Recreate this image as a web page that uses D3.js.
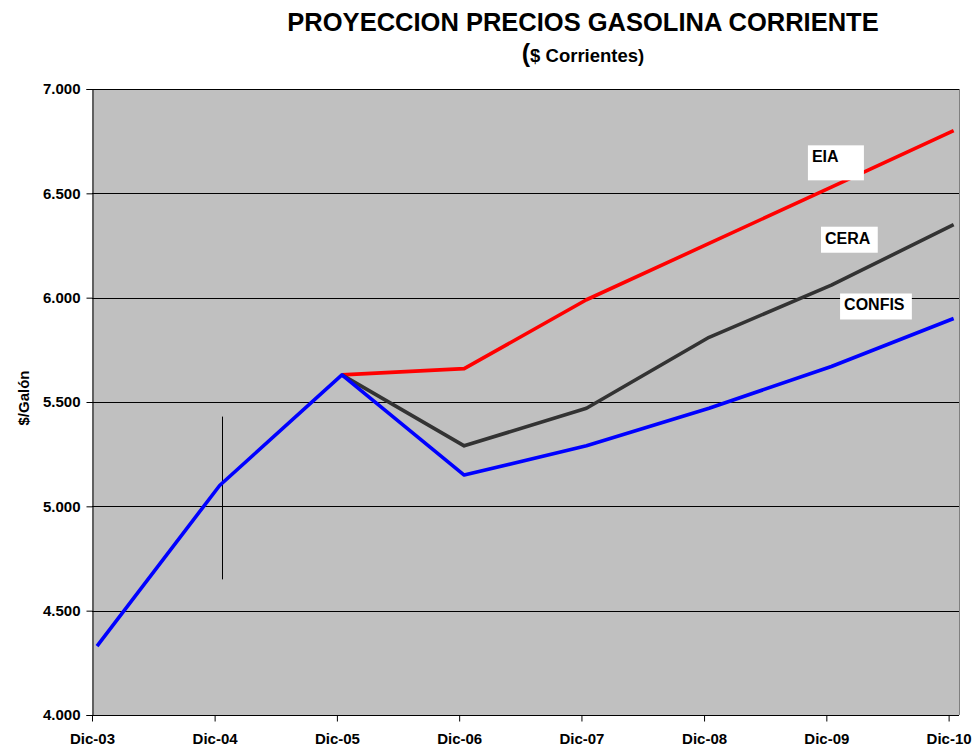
<!DOCTYPE html>
<html>
<head>
<meta charset="utf-8">
<script src="https://cdn.jsdelivr.net/npm/d3@7/dist/d3.min.js"></script>
<style>
  body { margin: 0; background: #fff; }
  text { font-family: Arial, "Liberation Sans", sans-serif; font-weight: bold; }
</style>
</head>
<body>
<div id="chart"></div>
<script>
// Category labels and years (December of each year)
const periods = ["Dic-03", "Dic-04", "Dic-05", "Dic-06", "Dic-07", "Dic-08", "Dic-09", "Dic-10"];
const years = [2003, 2004, 2005, 2006, 2007, 2008, 2009, 2010];

// Price projections ($/Galón), null where a series has no value
const eia = [null, null, 5.63, 5.66, 5.99, 6.26, 6.53, 6.80];
const cera = [null, null, 5.63, 5.29, 5.47, 5.81, 6.06, 6.35];
const confis = [4.33, 5.10, 5.63, 5.15, 5.29, 5.47, 5.67, 5.90];

// Thin high-low range drawn at Dic-04
const rangeYear = 2004;
const rangeLow = 4.65;
const rangeHigh = 5.43;

// Series names and where the label boxes sit (in data units)
const labelNames = ["EIA", "CERA", "CONFIS"];
const labelDates = ["2009-10-07", "2009-11-15", "2010-01-11"];
const labelValues = [6.73, 6.34, 6.02];

const yTicks = [4, 4.5, 5, 5.5, 6, 6.5, 7];

const width = 980, height = 748;
const plot = { left: 92, right: 959, top: 89, bottom: 715 };

const svg = d3.select("#chart").append("svg")
  .attr("width", width)
  .attr("height", height);

// Date axis: ticks on Dec 1, data points at mid December
const x = d3.scaleTime()
  .domain([new Date(2003, 11, 1), new Date(2011, 0, 1)])
  .range([plot.left, plot.right]);
const y = d3.scaleLinear().domain([4, 7]).range([plot.bottom, plot.top]);

const pointDate = yr => new Date(yr, 11, 16);
const fmt = d3.format(",.3f");
const esFmt = v => fmt(v).replace(".", ",").replace(/,(\d{3})$/, ".$1");

// Plot background
svg.append("rect")
  .attr("x", plot.left).attr("y", plot.top)
  .attr("width", plot.right - plot.left).attr("height", plot.bottom - plot.top)
  .attr("fill", "#c0c0c0");

// Horizontal gridlines
svg.append("g")
  .selectAll("line")
  .data(yTicks.filter(t => t > 4))
  .join("line")
  .attr("x1", plot.left).attr("x2", plot.right)
  .attr("y1", d => Math.round(y(d)) + 0.5).attr("y2", d => Math.round(y(d)) + 0.5)
  .attr("stroke", "#000").attr("stroke-width", 1);

// Right border of plot area
svg.append("line")
  .attr("x1", plot.right + 0.5).attr("x2", plot.right + 0.5)
  .attr("y1", plot.top).attr("y2", plot.bottom)
  .attr("stroke", "#808080");

// Y axis
const yAxis = svg.append("g")
  .attr("transform", `translate(${plot.left + 0.5},0)`)
  .call(d3.axisLeft(y).tickValues(yTicks).tickSize(6).tickPadding(6).tickFormat(esFmt));
yAxis.select(".domain").attr("stroke", "#000");
yAxis.selectAll("text").attr("font-size", 15).attr("fill", "#000")
  .style("font-family", "Arial, 'Liberation Sans', sans-serif").style("font-weight", "bold");

// X axis
const xAxis = svg.append("g")
  .attr("transform", `translate(0,${plot.bottom + 0.5})`)
  .call(d3.axisBottom(x)
    .tickValues(years.map(yr => new Date(yr, 11, 1)))
    .tickSize(6).tickPadding(12)
    .tickFormat((d, i) => periods[i]));
xAxis.select(".domain").attr("stroke", "#000").attr("d", `M${plot.left},0H${plot.right}`);
xAxis.selectAll("text").attr("font-size", 15).attr("fill", "#000")
  .style("font-family", "Arial, 'Liberation Sans', sans-serif").style("font-weight", "bold");

// Y axis title
svg.append("text")
  .attr("transform", `translate(29,398) rotate(-90)`)
  .attr("text-anchor", "middle")
  .attr("font-size", 15)
  .text("$/Galón");

// Title and subtitle
svg.append("text")
  .attr("x", 583).attr("y", 31)
  .attr("text-anchor", "middle")
  .attr("font-size", 25.5)
  .text("PROYECCION PRECIOS GASOLINA CORRIENTE");

const sub = svg.append("text")
  .attr("x", 583).attr("y", 62)
  .attr("text-anchor", "middle")
  .attr("font-size", 18.5);
sub.append("tspan").attr("font-size", 25).text("(");
sub.append("tspan").text("$ Corrientes)");

// High-low range line
svg.append("line")
  .attr("x1", Math.round(x(pointDate(rangeYear))) + 2.5)
  .attr("x2", Math.round(x(pointDate(rangeYear))) + 2.5)
  .attr("y1", y(rangeHigh)).attr("y2", y(rangeLow))
  .attr("stroke", "#000").attr("stroke-width", 1);

// Series lines
const line = d3.line()
  .defined(d => d.v != null)
  .x(d => x(pointDate(d.yr)))
  .y(d => y(d.v));

const series = [
  { values: eia, color: "#ff0000" },
  { values: cera, color: "#333333" },
  { values: confis, color: "#0000ff" }
];

svg.append("g")
  .selectAll("path")
  .data(series)
  .join("path")
  .attr("d", s => line(s.values.map((v, i) => ({ yr: years[i], v }))))
  .attr("fill", "none")
  .attr("stroke", s => s.color)
  .attr("stroke-width", 3.6)
  .attr("stroke-linejoin", "round");

// Series labels in white boxes
const lab = svg.append("g")
  .selectAll("g")
  .data(labelNames)
  .join("g")
  .attr("transform", (d, i) => `translate(${x(new Date(labelDates[i]))},${y(labelValues[i])})`);

lab.append("text")
  .attr("x", 4).attr("y", 17)
  .attr("font-size", 16)
  .text(d => d);

lab.each(function () {
  const g = d3.select(this);
  const bb = g.select("text").node().getBBox();
  const boxW = Math.max(56, bb.width + 11);
  g.insert("rect", "text")
    .attr("x", 0).attr("y", 0)
    .attr("width", boxW)
    .attr("height", g.datum() === "EIA" ? 35 : 26)
    .attr("fill", "#fff");
});
</script>
</body>
</html>
